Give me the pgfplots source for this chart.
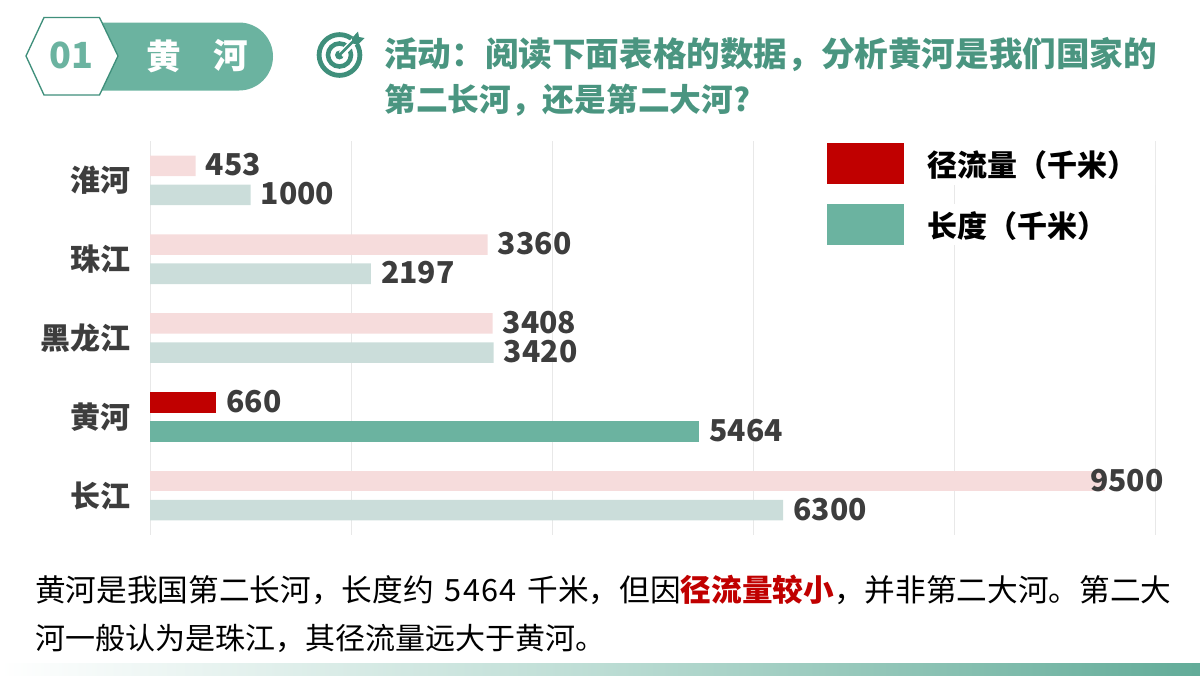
\documentclass[border=0pt]{standalone}
\usepackage{fontspec}
\usepackage{pgfplots}
\pgfplotsset{compat=1.18}
\setmainfont{Noto Sans CJK SC}
\definecolor{tealb}{HTML}{6BB3A0}
\definecolor{teald}{HTML}{3F8F7B}
\definecolor{tealt}{HTML}{4A9580}
\definecolor{redb}{HTML}{C00000}
\definecolor{pinkb}{HTML}{F6DCDC}
\definecolor{greenl}{HTML}{CBDDDA}
\definecolor{labc}{HTML}{3D3D3D}
\newcommand{\fsz}[1]{\fontsize{#1}{#1}\selectfont}
\newcommand{\cm}{\symbol{"FF0C}}
\newcommand{\cl}{\symbol{"FF1A}}
\newcommand{\lp}{\symbol{"FF08}}
\newcommand{\rp}{\symbol{"FF09}}
\begin{document}
\begin{tikzpicture}[x=0.75pt,y=-0.75pt]
\path[use as bounding box] (0,0) rectangle (1200,675);
% bottom gradient
\shade[left color=white,right color=tealb!80!teald,middle color=tealb!45!white] (0,663) rectangle (1200,675);
% header pill and hexagon
\fill[tealb] (90,22.5) -- (239,22.5) arc[start angle=-90,end angle=90,radius=34] -- (90,90.5) -- cycle;
\draw[teald,line width=1pt,fill=white] (26,56) -- (44,17.5) -- (99.5,17.5) -- (118,56) -- (99.5,95) -- (44,95) -- cycle;
\node[text=tealb,font=\fsz{27}\bfseries] at (71,55) {01};
\node[text=white,font=\fsz{26}\bfseries] at (164,56) {黄};
\node[text=white,font=\fsz{26}\bfseries] at (231,56) {河};
% target icon
\draw[teald,line width=3.6pt] (339.5,55) circle[radius=20.4];
\draw[teald,line width=3.4pt] (339.5,55) circle[radius=11.5];
\fill[teald] (339.5,55) circle[radius=4.5];
\fill[white] (339,52) -- (356,34) -- (361,39) -- (343,57) -- cycle;
\draw[teald,line width=2pt] (339.5,55) -- (356,38.5);
\fill[teald] (352,38) -- (358,31.5) -- (359,37) -- (364.5,38) -- (358,44.5) -- (352.5,43.5) -- cycle;
% headline
\node[anchor=base west,inner sep=0,text=tealt,font=\fsz{25.2}\bfseries] at (384,66) {活动\cl 阅读下面表格的数据\cm 分析黄河是我们国家的};
\node[anchor=base west,inner sep=0,text=tealt,font=\fsz{23.8}\bfseries] at (384,111) {第二长河\cm 还是第二大河?};
% body
\node[anchor=base west,inner sep=0,text=black,font=\fsz{23}] at (35,601) {黄河是我国第二长河\cm 长度约\hspace{8.25pt}5\kern.9pt4\kern.9pt6\kern.9pt4\hspace{8.25pt}千米\cm 但因\textcolor{redb}{\bfseries 径流量较小}\cm 并非第二大河。第二大};
\node[anchor=base west,inner sep=0,text=black,font=\fsz{22.5}] at (35,649) {河一般认为是珠江\cm 其径流量远大于黄河。};
\coordinate (O) at (150,535);
\begin{axis}[
  at={(O)},anchor=south west,
  scale only axis,width=753.75pt,height=295.5pt,
  xmin=0,xmax=10000,ymin=-0.5,ymax=4.5,
  scaled x ticks=false,
  xtick={0,2000,4000,6000,8000,10000},xticklabels={},
  ytick={0,1,2,3,4},yticklabels={长江,黄河,黑龙江,珠江,淮河},
  major tick length=0pt,tick label style={font=\fsz{22.5}\bfseries,text=labc},
  ytick style={draw=none},xtick style={draw=none},
  yticklabel style={xshift=-11pt},
  xmajorgrids=true,ymajorgrids=false,
  major grid style={color=black!9,line width=0.7pt},
  axis line style={draw=none},
  xbar,bar width=15.4pt,
  /pgf/number format/assume math mode=true,
  /pgf/number format/1000 sep={},
  point meta=x,
  nodes near coords,
  nodes near coords style={font=\fsz{22.6}\bfseries,text=labc,anchor=west,inner sep=0pt,xshift=7.5pt,yshift=0.75pt},
  legend style={draw=none,fill=none,at={(rel axis cs:0.6737,0.9975)},anchor=north west,
    font=\fsz{22.5}\bfseries,text=black,inner sep=0pt,row sep=14.4pt,
    legend cell align=left,
    nodes={inner sep=0pt,minimum height=31.5pt,text depth=0pt}},
  legend image code/.code={\fill[#1] (0pt,-15.5pt) rectangle (57.75pt,15.5pt);\path (75pt,0);},
]
\addplot[draw=none,fill=pinkb,bar shift=10.9pt,forget plot] coordinates {(453,4) (3360,3) (3408,2)};
\addplot[draw=none,fill=redb,bar shift=10.9pt,forget plot] coordinates {(660,1)};
\addplot[draw=none,fill=pinkb,bar shift=10.9pt,forget plot,nodes near coords style={xshift=-18.75pt}] coordinates {(9500,0)};
\addplot[draw=none,fill=greenl,bar shift=-10.9pt,forget plot] coordinates {(1000,4) (2197,3) (3420,2) (6300,0)};
\addplot[draw=none,fill=tealb,bar shift=-10.9pt,forget plot] coordinates {(5464,1)};
\addlegendimage{fill=redb,draw=none}
\addlegendimage{fill=tealb,draw=none}
\fill[white] (rel axis cs:0.665,1.01) rectangle (rel axis cs:1.02,0.888);
\fill[white] (rel axis cs:0.665,0.84) rectangle (rel axis cs:0.98,0.735);
\legend{径流量\lp 千米\rp,长度\lp 千米\rp}
\end{axis}
\end{tikzpicture}
\end{document}
